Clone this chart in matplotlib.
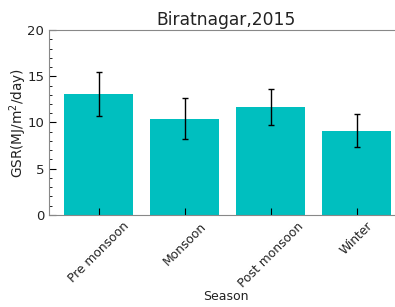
import matplotlib
matplotlib.use("Agg")
import matplotlib.pyplot as plt
from matplotlib.ticker import MultipleLocator

seasons = ["Pre monsoon", "Monsoon", "Post monsoon", "Winter"]
gsr_mean = [13.05, 10.4, 11.7, 9.1]
gsr_err = [2.4, 2.2, 1.95, 1.8]

fig = plt.figure(figsize=(3.95, 3.07), dpi=100)
ax = fig.add_axes([0.124, 0.30, 0.896, 0.602])

x = list(range(len(seasons)))
ax.bar(x, gsr_mean, width=0.8, color='c', yerr=gsr_err,
       error_kw=dict(ecolor='black', elinewidth=1, capsize=2, capthick=1))

ax.set_xlim(-0.58, 3.54)
ax.set_ylim(0, 20)
ax.set_xticks(x)
ax.set_xticklabels(seasons, rotation=45, color='#222222')
ax.yaxis.set_major_locator(MultipleLocator(5))
ax.yaxis.set_minor_locator(MultipleLocator(1))
ax.tick_params(axis='both', which='major', direction='in', length=5, labelsize=9.5, labelcolor='#222222')
ax.tick_params(axis='x', labelsize=8.8)
ax.tick_params(axis='y', which='minor', direction='in', length=2.5)

# right spine sits outside the image, as in the reference
ax.spines['right'].set_visible(False)
for s in ax.spines.values():
    s.set_color('#888888')

ax.set_title("Biratnagar,2015", fontsize=12.3, color='#222222', pad=4)
ax.set_xlabel("Season", fontsize=9, color='#222222', labelpad=0)
ax.set_ylabel("GSR(MJ/m$^2$/day)", fontsize=9.8, color='#222222', labelpad=-1)

fig.savefig("out.png", dpi=100)
